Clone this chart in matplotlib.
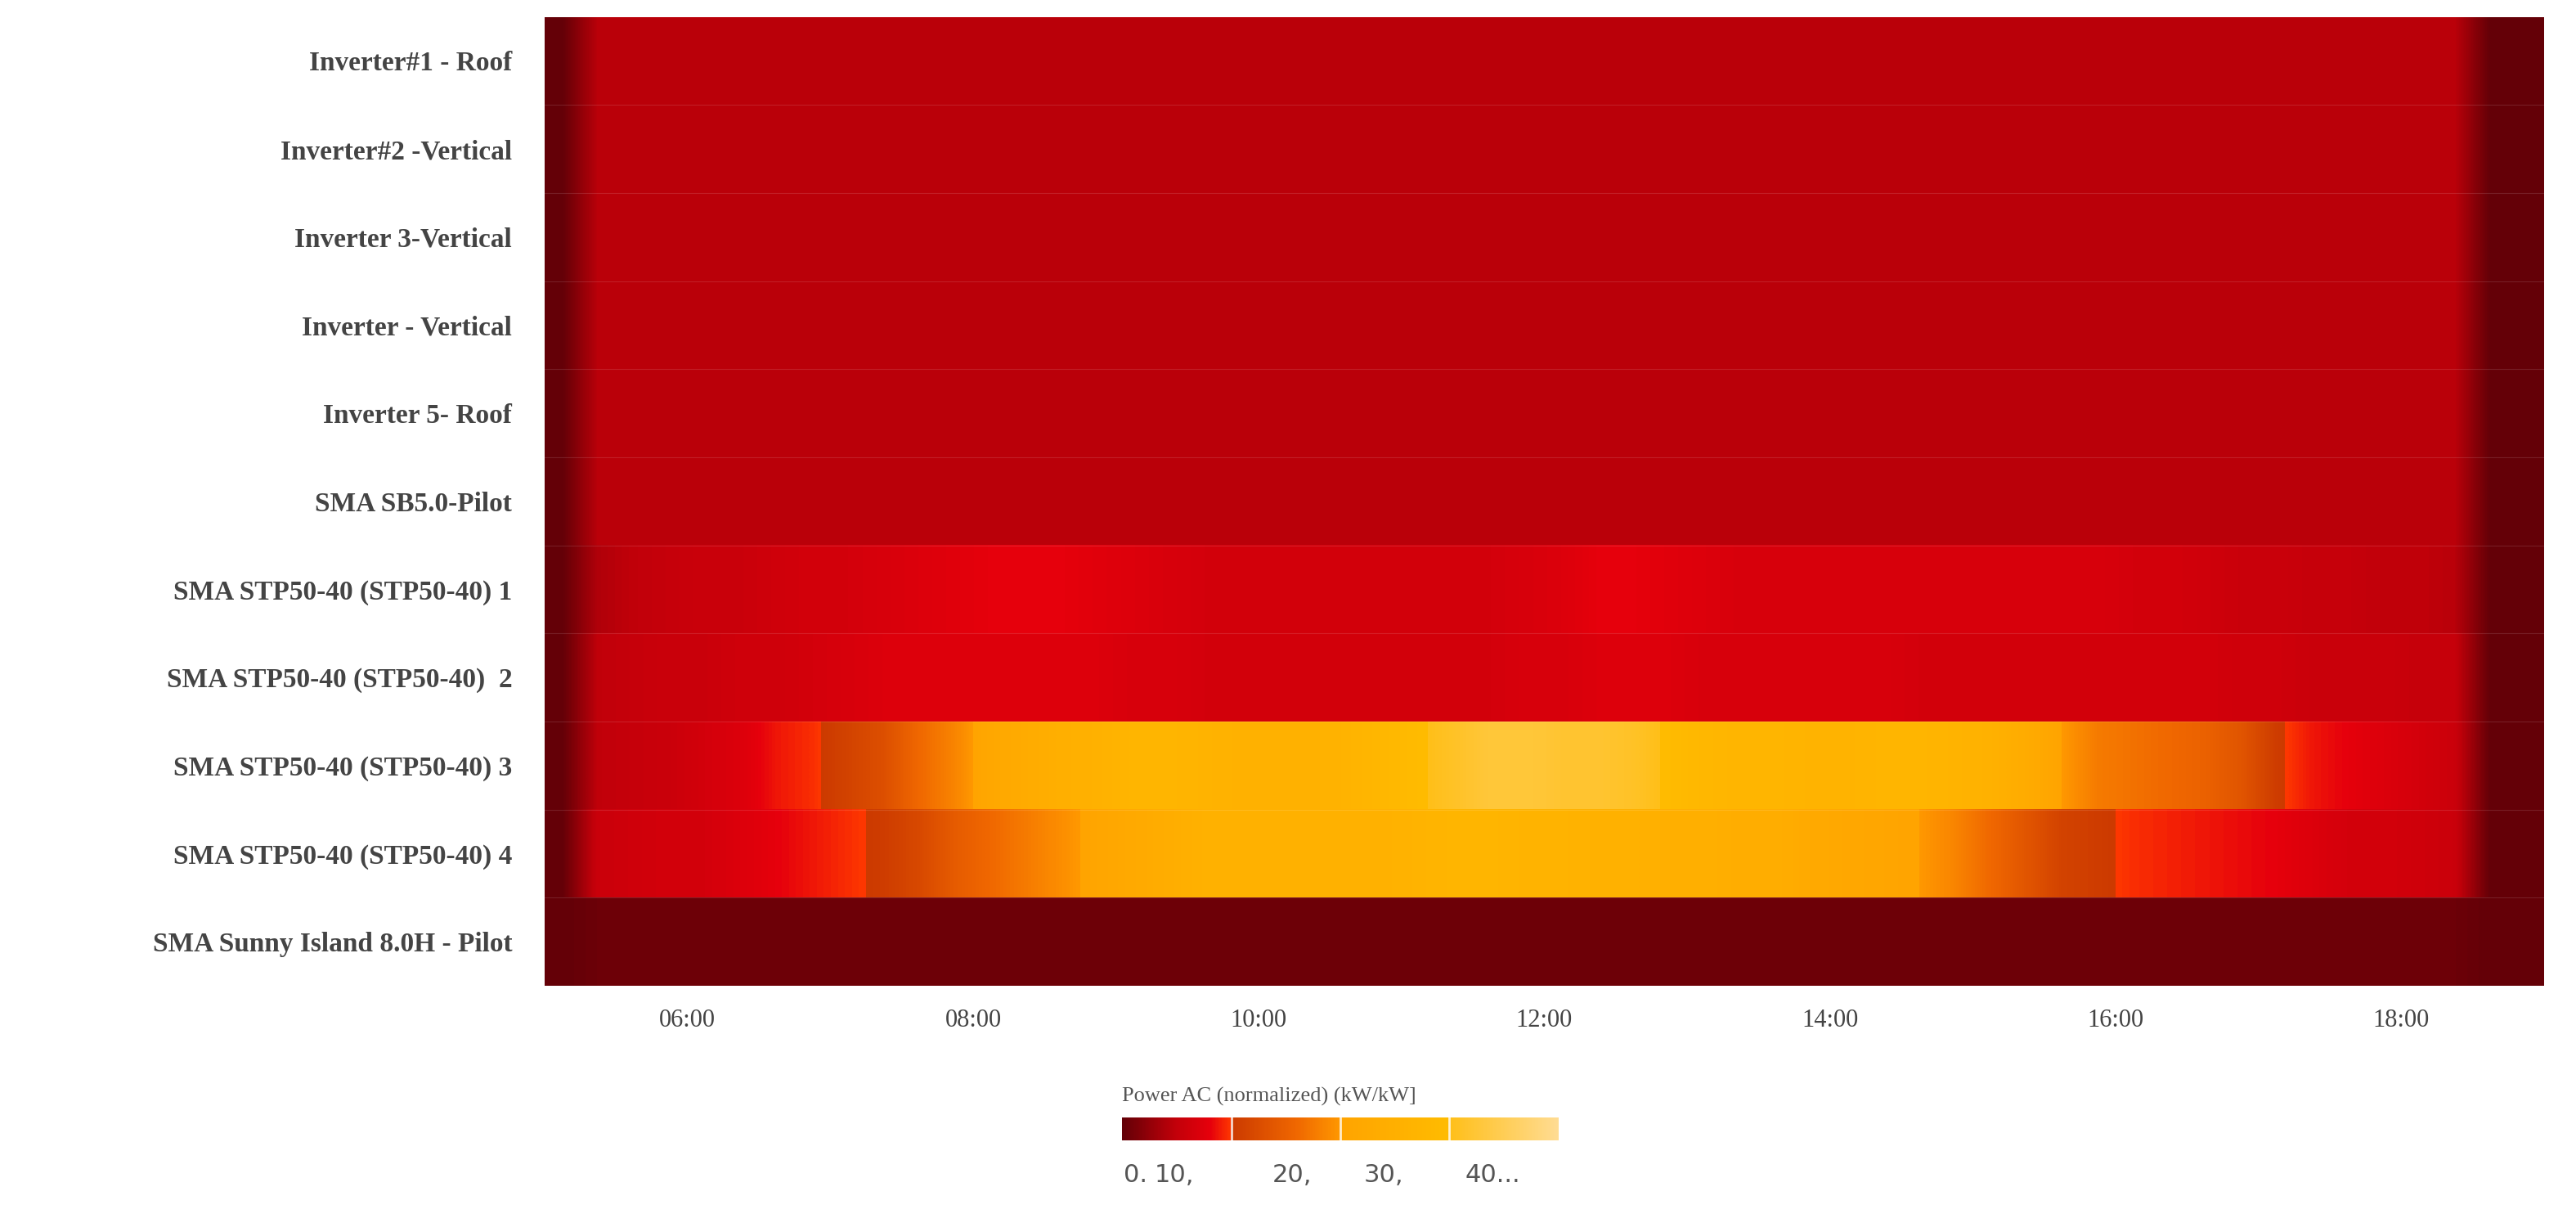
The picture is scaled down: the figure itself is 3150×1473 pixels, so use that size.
import numpy as np
import matplotlib
matplotlib.use("Agg")
import matplotlib.pyplot as plt
from matplotlib.colors import LinearSegmentedColormap

inverters = ["Inverter#1 - Roof", "Inverter#2 -Vertical", "Inverter 3-Vertical",
             "Inverter - Vertical", "Inverter 5- Roof", "SMA SB5.0-Pilot",
             "SMA STP50-40 (STP50-40) 1", "SMA STP50-40 (STP50-40)  2",
             "SMA STP50-40 (STP50-40) 3", "SMA STP50-40 (STP50-40) 4",
             "SMA Sunny Island 8.0H - Pilot"]

# 15-minute column start times (hours), 05:00 .. 18:45
slot_start_h = 5.0
slot_len_h = 0.25

flat = [0] + [5.6] * 53 + [0, 0]
inv1 = flat
inv2 = flat
inv3 = flat
inv4 = flat
inv5 = flat
sb50 = flat
stp1 = [0, 5, 6, 6.5, 7, 7, 7.5, 8, 8, 8.5, 9, 9.5, 10, 10, 10, 9.5, 9, 8.5, 8, 8, 8, 8, 8, 8, 8, 8, 8, 8.5, 9, 10, 10, 9.5, 9, 8.5, 8.5, 8.5, 8.5, 8.5, 8.5, 8.5, 8.5, 8.5, 8.5, 8.5, 8, 8, 7.5, 7, 7, 6.5, 6.5, 6, 6, 5.5, 0, 0]
stp2 = [0, 6, 6.5, 7, 7, 7.5, 7.5, 8, 8.5, 9, 9, 9, 9, 9, 9, 9, 8.5, 8.5, 8, 8, 8, 8, 8, 8, 8, 8, 8, 8.5, 8.5, 9, 9, 9, 8.5, 8.5, 8.5, 8.5, 8.5, 8.5, 8, 8, 8, 8, 8, 8, 8, 8, 8, 7.5, 7.5, 7, 7, 7, 6.5, 6.5, 0, 0]
stp3 = [0, 6, 6.5, 7, 8, 9, 11, 12, 14, 16, 20, 23, 27, 29, 31, 32, 34, 34, 33, 32, 32, 32, 33, 35, 37, 39, 41, 41, 40, 40, 39, 37, 35, 34, 34, 33, 33, 34, 34, 33, 32, 29, 25, 22, 21, 20, 19, 17, 13, 11, 10, 9, 8, 7, 0, 0]
stp4 = [0, 7, 7.5, 8, 8, 9, 10, 11, 12, 13, 15, 18, 20, 22, 24, 26, 28, 30, 32, 32, 32, 32, 32, 32, 33, 34, 34, 33, 33, 32, 32, 31, 31, 30, 30, 28, 27, 26, 25, 23, 20, 17, 14, 13, 12, 11.5, 11, 10.5, 10, 9, 8, 8, 7.5, 7, 0, 0]
island = [0] + [0.6] * 53 + [0, 0]

rows = [inv1, inv2, inv3, inv4, inv5, sb50, stp1, stp2, stp3, stp4, island]

cbar_title = "Power AC (normalized) (kW/kW]"
cbar_labels = ["0.", "10,", "20,", "30,", "40..."]
cbar_label_pos = [0.03, 0.12, 0.39, 0.6, 0.85]
x_tick_hours = [6, 8, 10, 12, 14, 16, 18]
x_tick_labels = ["06:00", "08:00", "10:00", "12:00", "14:00", "16:00", "18:00"]

cmap = LinearSegmentedColormap.from_list("pw", [
    (0.0, "#640007"), (0.12, "#c2000a"), (0.2, "#e6000c"), (0.2499, "#ff3a00"),
    (0.25, "#cc3a00"), (0.4, "#f06800"), (0.4999, "#ff9800"),
    (0.5, "#ffa400"), (0.7499, "#ffbc00"),
    (0.75, "#ffbf18"), (1.0, "#ffdc92")])

plt.rcParams['font.family'] = ['Liberation Serif', 'DejaVu Serif']
fig = plt.figure(figsize=(31.5, 14.73), dpi=100)
ax = fig.add_axes([0.2076, 0.182, 0.781, 0.804])

data = np.array(rows, dtype=float)
ncol = data.shape[1]
x0 = slot_start_h
x1 = slot_start_h + slot_len_h * ncol
for i, r in enumerate(data):
    ax.imshow(r[None, :], cmap=cmap, vmin=0, vmax=50, aspect='auto',
              interpolation='bilinear', extent=[x0, x1, i + 1, i])
for y in range(1, len(rows)):
    ax.axhline(y, color="white", lw=0.8, alpha=0.12)
ax.set_xlim(4.93, 19.02)
ax.set_ylim(len(rows), 0)
ax.set_yticks(np.arange(len(rows)) + 0.5)
ax.set_yticklabels(inverters, fontsize=24, color="#444444", fontweight="bold")
ax.set_xticks(x_tick_hours)
ax.set_xticklabels(x_tick_labels, fontsize=22, color="#444444")
ax.tick_params(length=0, pad=20)
for s in ax.spines.values():
    s.set_visible(False)

cax = fig.add_axes([0.4356, 0.0536, 0.1694, 0.019])
grad = np.linspace(0, 50, 400)[None, :]
cax.imshow(grad, aspect='auto', cmap=cmap, vmin=0, vmax=50, extent=[0, 1, 0, 1])
for v in [0.25, 0.5, 0.75]:
    cax.axvline(v, color="white", lw=2, alpha=0.8)
cax.set_xticks([]); cax.set_yticks([])
for s in cax.spines.values():
    s.set_visible(False)
cax.text(0.0, 1.5, cbar_title, transform=cax.transAxes, fontsize=19, color="#555555", va="bottom", ha="left")
for lab, p in zip(cbar_labels, cbar_label_pos):
    cax.text(p, -1.0, lab, transform=cax.transAxes, fontsize=22, color="#555555", va="top", ha="center", family="DejaVu Sans")

fig.savefig("out.png", dpi=100)
